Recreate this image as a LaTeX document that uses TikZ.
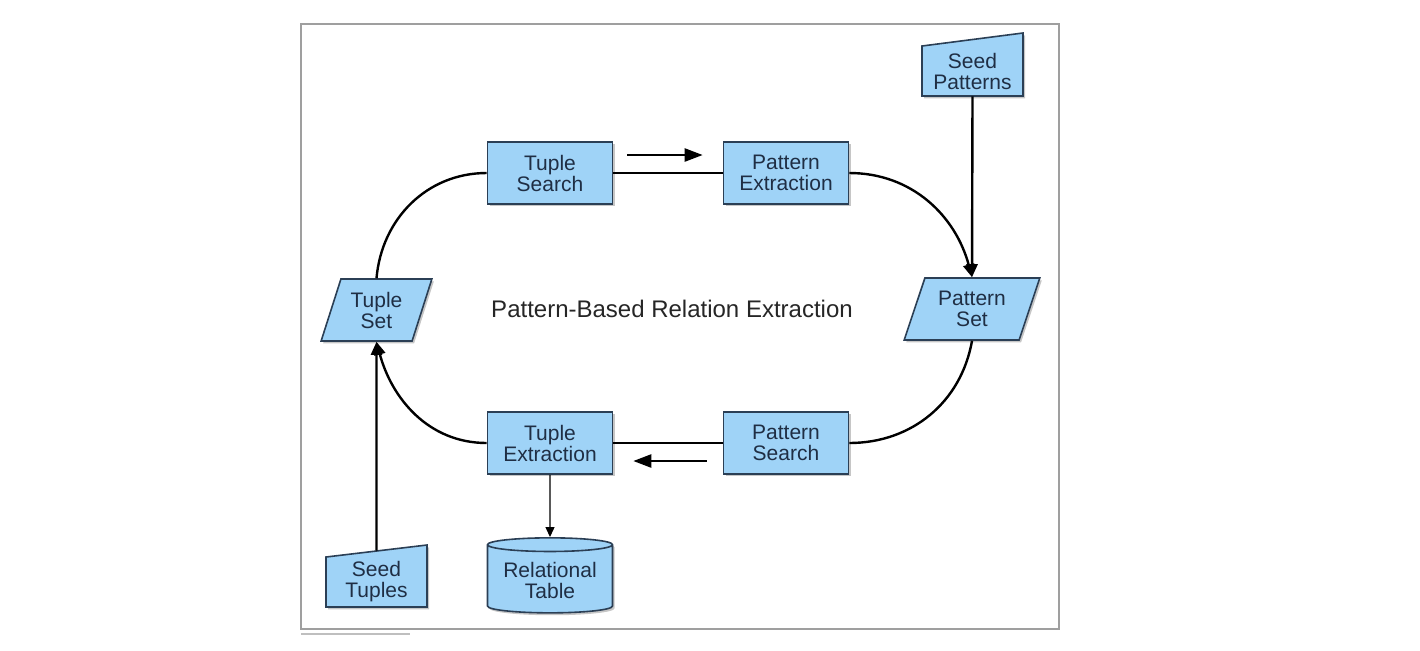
\documentclass[tikz,border=0pt]{standalone}
\usepackage{fontspec}
\setmainfont{Liberation Sans}
\usetikzlibrary{shapes.geometric,shadows,arrows.meta}
\definecolor{boxfill}{HTML}{9FD3F7}
\definecolor{boxline}{HTML}{2B3F55}
\definecolor{boxtext}{HTML}{1F2E44}
\begin{document}
\begin{tikzpicture}[x=0.5pt,y=-0.5pt,
  box/.style={draw=boxline,fill=boxfill,line width=0.8pt,text=boxtext,align=center,
    font=\fontsize{10.5}{10.5}\selectfont,
    drop shadow={shadow xshift=1pt,shadow yshift=-1.2pt,opacity=0.45}},
  proc/.style={box,rectangle,minimum width=62.5pt,minimum height=31pt},
  data/.style={box,trapezium,trapezium left angle=70,trapezium right angle=110,
    trapezium stretches=true,minimum height=31pt},
  seedtext/.style={align=center,text=boxtext,font=\fontsize{10.5}{10.5}\selectfont,
    minimum width=50.5pt,minimum height=25pt,inner sep=0pt},
  line/.style={line width=1.2pt},
  flow/.style={line,-{Triangle[length=6.5pt,width=5.5pt]}},
  hint/.style={line,-{Triangle[length=9pt,width=6.5pt]}}]
\useasboundingbox (0,0) rectangle (1420,650);
\draw[gray!75,line width=0.9pt] (301,24) rectangle (1059,629);
\draw[gray!50,line width=0.8pt] (301,634) -- (410,634);
\node[font=\fontsize{12}{14}\selectfont,text=black!85] (title) at (672,309) {Pattern-Based Relation Extraction};
% process boxes
\node[proc] (tsearch) at (550,173) {Tuple\\Search};
\node[proc] (pextr) at (786,173) {Pattern\\Extraction};
\node[proc] (textr) at (550,443) {Tuple\\Extraction};
\node[proc] (psearch) at (786,443) {Pattern\\Search};
% data sets
\node[data,minimum width=55.5pt] (tset) at (376.5,310) {Tuple\\Set};
\node[data,minimum width=68pt] (pset) at (972,309) {Pattern\\Set};
\node[box,cylinder,shape border rotate=90,aspect=0.14,inner sep=1pt,minimum width=62.5pt,
  minimum height=37.5pt] (rtab) at (550,580) {Relational\\Table};
% seeds
\filldraw[box] (922,46) -- (1023,33) -- (1023,96) -- (922,96) -- cycle;
\node[seedtext] (spat) at (972.5,71) {Seed\\Patterns};
\filldraw[box] (326,557) -- (427,545) -- (427,607) -- (326,607) -- cycle;
\node[seedtext] (stup) at (376.5,582) {Seed\\Tuples};
% loop
\draw[line] (tset.north) to[out=85,in=180] (tsearch.west);
\draw[line] (tsearch) -- (pextr);
\draw[flow] (pextr.east) to[out=0,in=105] (pset.north);
\draw[flow] (spat.south) -- (pset.north);
\draw[line] (pset.south) to[out=-100,in=0] (psearch.east);
\draw[line] (psearch) -- (textr);
\draw[flow] (textr.west) to[out=180,in=-75] (tset.south);
\draw[flow] ([yshift=3pt]stup.north) -- (tset.south);
\draw[line width=0.6pt,-{Triangle[length=5pt,width=4.5pt]}] (textr) -- (rtab);
% direction hints
\draw[hint] ([xshift=7pt,yshift=9pt]tsearch.east) -- ([xshift=-10pt,yshift=9pt]pextr.west);
\draw[hint] ([xshift=-8pt,yshift=-9pt]psearch.west) -- ([xshift=10pt,yshift=-9pt]textr.east);
\end{tikzpicture}
\end{document}
